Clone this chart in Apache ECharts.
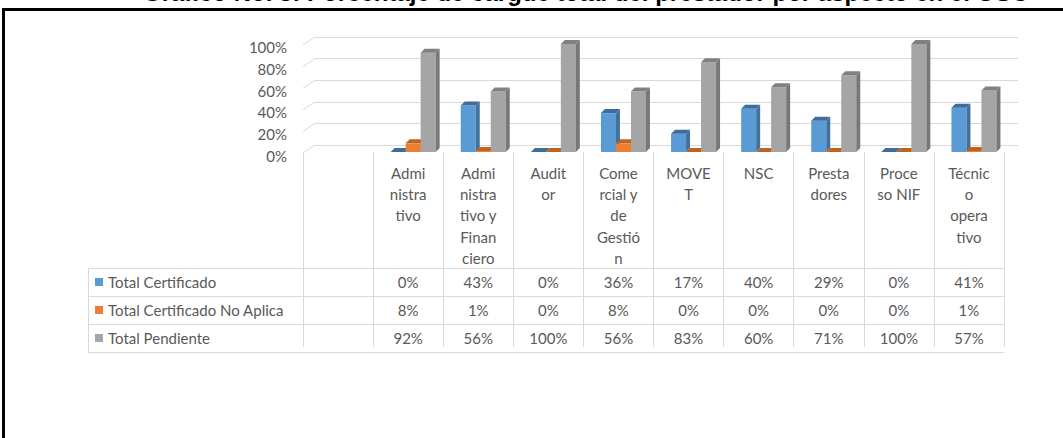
<!DOCTYPE html>
<html><head><meta charset="utf-8">
<script src="https://cdn.jsdelivr.net/npm/echarts@6/dist/echarts.min.js"></script>
<style>html,body{margin:0;padding:0;background:#fff;overflow:hidden}#c{width:1063px;height:438px}</style>
</head><body><div id="c"></div>
<script>
const titleText = 'Gráfico No. 5: Porcentaje de cargue total del prestador por aspecto en el OSC';
const categories = ['', 'Administrativo', 'Administrativo y Financiero', 'Auditor', 'Comercial y de Gestión', 'MOVET', 'NSC', 'Prestadores', 'Proceso NIF', 'Técnico operativo'];
const categoryLabels = ['', 'Admi\nnistra\ntivo', 'Admi\nnistra\ntivo y\nFinan\nciero', 'Audit\nor', 'Come\nrcial y\nde\nGestió\nn', 'MOVE\nT', 'NSC', 'Presta\ndores', 'Proce\nso NIF', 'Técnic\no\nopera\ntivo'];
const seriesNames = ['Total Certificado', 'Total Certificado No Aplica', 'Total Pendiente'];
const totalCertificado = [null, 0, 43, 0, 36, 17, 40, 29, 0, 41];
const totalNoAplica = [null, 8, 1, 0, 8, 0, 0, 0, 0, 1];
const totalPendiente = [null, 92, 56, 100, 56, 83, 60, 71, 100, 57];
const yTicks = [0, 20, 40, 60, 80, 100];

const seriesValues = [totalCertificado, totalNoAplica, totalPendiente];
const palette = [
  ['#5b9bd5', '#41719c', '#3e6d99'],
  ['#ed7d31', '#ae5a21', '#c0631f'],
  ['#a5a5a5', '#787878', '#808080']
];
const FONT = 'Lato';
const TXT = '#595959';
const LINE = '#d9d9d9';

function makeRender(si) {
  const cols = palette[si];
  return function (params, api) {
    const ci = api.value(0), v = api.value(1);
    const top = api.coord([ci, v]);
    const base = api.coord([ci, 0]);
    const bw = 15, dx = 4, dy = 4;
    const cx = top[0] + 5;
    const x0 = cx - 1.5 * bw + si * bw, x1 = x0 + bw;
    const yT = top[1], yB = base[1];
    return { type: 'group', children: [
      { type: 'rect', shape: { x: x0, y: yT, width: bw, height: yB - yT }, style: { fill: cols[0] } },
      { type: 'polygon', shape: { points: [[x1, yT], [x1 + dx, yT - dy], [x1 + dx, yB - dy], [x1, yB]] }, style: { fill: cols[1] } },
      { type: 'polygon', shape: { points: [[x0, yT], [x0 + dx, yT - dy], [x1 + dx, yT - dy], [x1, yT]] }, style: { fill: cols[2] } }
    ]};
  };
}

const chart = echarts.init(document.getElementById('c'), null, { renderer: 'svg' });
const option = {
  animation: false,
  backgroundColor: '#fff',
  textStyle: { fontFamily: FONT },
  legend: {
    orient: 'vertical', left: 95, top: 273, padding: 0,
    itemWidth: 8, itemHeight: 8, itemGap: 10, icon: 'rect',
    textStyle: { fontFamily: FONT, fontSize: 15, color: TXT, lineHeight: 18 },
    data: seriesNames
  },
  grid: [
    { left: 303, right: 59, top: 44, bottom: 286, outerBoundsMode: 'none' },
    { left: 315, right: 45, top: 37, bottom: 293, outerBoundsMode: 'none' },
    { left: 303, right: 59, top: 47, bottom: 282, outerBoundsMode: 'none' }
  ],
  xAxis: [
    { gridIndex: 0, type: 'category', data: categories, offset: 5,
      axisLine: { show: false },
      axisTick: { show: true, interval: 0, length: 195, lineStyle: { color: LINE } },
      axisLabel: { interval: 0, margin: 5, verticalAlign: 'top', fontFamily: FONT, fontSize: 15, lineHeight: 21.3, color: TXT,
        formatter: (v, i) => categoryLabels[i] } },
    { gridIndex: 1, type: 'value', min: 0, max: 1, show: false },
    { gridIndex: 2, type: 'value', min: 0, max: 1, show: false }
  ],
  yAxis: [
    { gridIndex: 0, type: 'value', min: 0, max: 100, interval: 20, show: false },
    { gridIndex: 1, type: 'value', min: 0, max: 100, interval: 20,
      axisLine: { show: false }, axisTick: { show: false }, axisLabel: { show: false },
      splitLine: { show: true, lineStyle: { color: LINE, width: 1 } } },
    { gridIndex: 2, type: 'value', min: 0, max: 100, interval: 20,
      axisLine: { show: false }, axisTick: { show: false }, splitLine: { show: false },
      axisLabel: { margin: 16, fontFamily: FONT, fontSize: 15, color: TXT, formatter: '{value}%' } }
  ],
  series: seriesNames.map((name, si) => ({
    name, type: 'custom', xAxisIndex: 0, yAxisIndex: 0,
    itemStyle: { color: palette[si][0] },
    renderItem: makeRender(si),
    encode: { x: 0, y: 1 },
    data: seriesValues[si].map((v, i) => [i, v]).filter(d => d[1] !== null)
  }))
};
chart.setOption(option);

// table, slants, title, frame
const graphics = [];
graphics.push({ type: 'text', left: 143, top: -20, style: { text: titleText, font: 'bold 24px "Liberation Sans", Arial', fill: '#000' } });
graphics.push({ type: 'rect', shape: { x: 3.5, y: 9.5, width: 1100, height: 500 }, style: { fill: 'none', stroke: '#000', lineWidth: 3 } });
yTicks.forEach(t => {
  const yb = chart.convertToPixel({ yAxisIndex: 1 }, t);
  graphics.push({ type: 'line', shape: { x1: 303, y1: yb + 8, x2: 315, y2: yb }, style: { stroke: LINE, lineWidth: 1 } });
});
const tableLeft = 88, tableRight = chart.convertToPixel({ xAxisIndex: 0 }, categories.length - 1) + 35;
const rowTops = [268, 296, 324, 352];
rowTops.forEach(y => graphics.push({ type: 'line', shape: { x1: tableLeft, y1: y + 0.5, x2: tableRight, y2: y + 0.5 }, style: { stroke: LINE, lineWidth: 1 } }));
graphics.push({ type: 'line', shape: { x1: tableLeft + 0.5, y1: 268, x2: tableLeft + 0.5, y2: 352 }, style: { stroke: LINE, lineWidth: 1 } });
seriesValues.forEach((arr, r) => {
  arr.forEach((v, i) => {
    if (v === null) return;
    const x = chart.convertToPixel({ xAxisIndex: 0 }, i);
    graphics.push({ type: 'text', x: x, y: rowTops[r] + 14,
      style: { text: v + '%', fontFamily: FONT, fontSize: 15, fill: TXT, align: 'center', verticalAlign: 'middle' } });
  });
});
chart.setOption({ graphic: graphics });
</script></body></html>
